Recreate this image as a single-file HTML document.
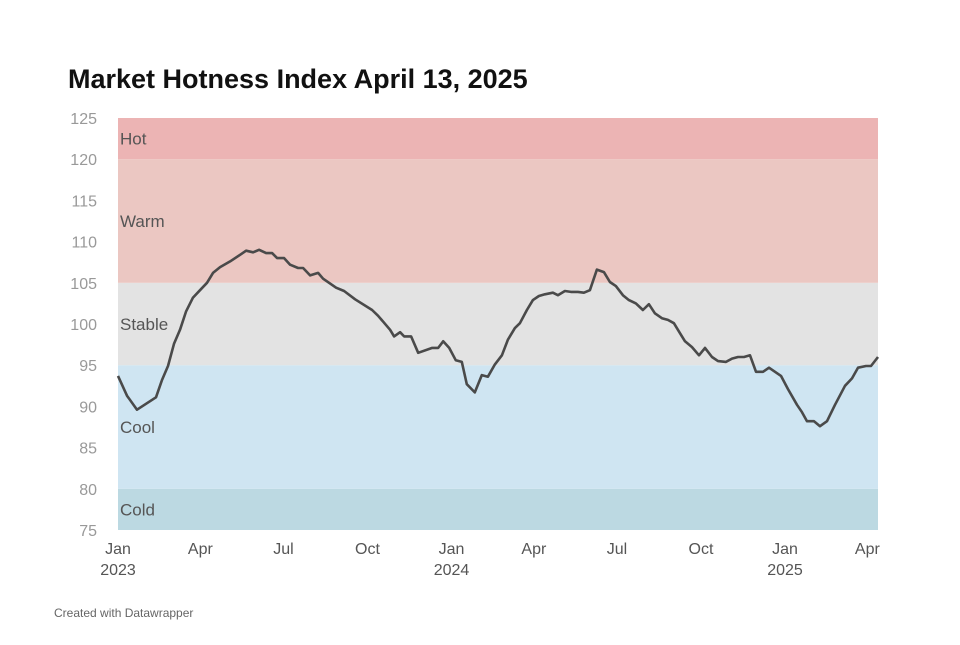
<!DOCTYPE html>
<html><head><meta charset="utf-8"><style>
body{margin:0;background:#fff;font-family:"Liberation Sans",Arial,sans-serif;}
#wrap{position:relative;width:960px;height:640px;}
</style></head><body>
<div id="wrap">
<svg id="chart" width="960" height="640">
<text x="68" y="88" font-size="27" font-weight="bold" fill="#111">Market Hotness Index April 13, 2025</text>
<g id="bands"></g>
<g id="yaxis"></g>
<g id="xaxis"></g>
<path id="line" fill="none" stroke="#4a4a4a" stroke-width="2.6" stroke-linejoin="round"></path>
<text x="54" y="617" font-size="12" fill="#666">Created with Datawrapper</text>
</svg>
</div>
<script>
const times=[2023.000,2023.027,2023.057,2023.114,2023.132,2023.150,2023.168,2023.186,2023.204,2023.225,2023.246,2023.267,2023.285,2023.306,2023.336,2023.366,2023.384,2023.405,2023.423,2023.444,2023.462,2023.477,2023.498,2023.516,2023.540,2023.555,2023.576,2023.600,2023.615,2023.654,2023.678,2023.711,2023.762,2023.780,2023.816,2023.828,2023.846,2023.858,2023.879,2023.900,2023.942,2023.960,2023.975,2023.993,2024.013,2024.031,2024.046,2024.070,2024.091,2024.109,2024.130,2024.151,2024.169,2024.190,2024.205,2024.226,2024.244,2024.262,2024.280,2024.304,2024.319,2024.340,2024.358,2024.379,2024.397,2024.415,2024.436,2024.457,2024.475,2024.493,2024.514,2024.532,2024.553,2024.574,2024.592,2024.610,2024.631,2024.649,2024.667,2024.685,2024.700,2024.721,2024.742,2024.760,2024.781,2024.799,2024.823,2024.841,2024.859,2024.877,2024.895,2024.913,2024.934,2024.952,2024.988,2025.009,2025.036,2025.051,2025.066,2025.087,2025.105,2025.126,2025.150,2025.180,2025.201,2025.219,2025.243,2025.258,2025.279];
const values=[93.7,91.3,89.6,91.1,93.2,94.9,97.6,99.3,101.5,103.2,104.1,105.0,106.2,106.9,107.6,108.4,108.9,108.7,109.0,108.6,108.6,108.0,108.0,107.2,106.8,106.8,105.9,106.2,105.5,104.4,104.0,103.0,101.7,101.0,99.3,98.5,99.0,98.5,98.5,96.5,97.1,97.1,97.9,97.1,95.6,95.4,92.7,91.7,93.8,93.6,95.1,96.2,98.1,99.5,100.1,101.7,102.9,103.4,103.6,103.8,103.5,104.0,103.9,103.9,103.8,104.1,106.6,106.3,105.1,104.6,103.5,102.9,102.5,101.7,102.4,101.3,100.7,100.5,100.1,98.9,97.9,97.2,96.2,97.1,96.0,95.5,95.4,95.8,96.0,96.0,96.2,94.2,94.2,94.7,93.7,92.1,90.2,89.3,88.2,88.2,87.6,88.2,90.2,92.5,93.4,94.7,94.9,94.9,96.0];
const yTicks=[75,80,85,90,95,100,105,110,115,120,125];
const bandNames=["Cold","Cool","Stable","Warm","Hot"];
const bandFrom=[75,80,95,105,120];
const bandTo=[80,95,105,120,125];
const bandColors=["#bcd9e2","#cfe5f2","#e3e3e3","#ebc7c2","#ecb4b4"];
const xTickLabels=["Jan","Apr","Jul","Oct","Jan","Apr","Jul","Oct","Jan","Apr"];
const xTickTimes=[2023,2023.247,2023.496,2023.748,2024,2024.247,2024.496,2024.748,2025,2025.247];
const yearLabels=["2023","2024","2025"];
const yearTimes=[2023,2024,2025];

const X0=118,X1=878,Y0=530,Y1=118;
const x=t=>X0+(t-2023)*333.5;
const y=v=>Y0-(v-75)*(Y0-Y1)/50;
const NS="http://www.w3.org/2000/svg";
function mk(tag,attrs,parent){const e=document.createElementNS(NS,tag);for(const k in attrs)e.setAttribute(k,attrs[k]);parent.appendChild(e);return e;}
const bands=document.getElementById('bands');
bandNames.forEach((n,i)=>{
  const r=mk('rect',{x:X0,y:y(bandTo[i]),width:X1-X0,height:y(bandFrom[i])-y(bandTo[i]),fill:bandColors[i]},bands);
  
  
  const ly=(y(bandFrom[i])+y(bandTo[i]))/2+6;
  const t=mk('text',{x:X0+2,y:ly,'font-size':17,fill:'#555'},bands);
  t.textContent=n;
  
  
});
const ya=document.getElementById('yaxis');
yTicks.forEach(v=>{
  const t=mk('text',{x:97,y:y(v)+6,'font-size':16,fill:'#999','text-anchor':'end'},ya);
  t.textContent=v;
  
  
});
const xa=document.getElementById('xaxis');
xTickLabels.forEach((l,i)=>{
  const t=mk('text',{x:x(xTickTimes[i]),y:554,'font-size':16,fill:'#555','text-anchor':'middle'},xa);
  t.textContent=l;
  
  
});
yearLabels.forEach((l,i)=>{
  const t=mk('text',{x:x(yearTimes[i]),y:575,'font-size':16,fill:'#555','text-anchor':'middle'},xa);
  t.textContent=l;
  
  
});
document.getElementById('line').setAttribute('d',times.map((t,i)=>(i?'L':'M')+x(t).toFixed(1)+','+y(values[i]).toFixed(1)).join(''));
</script>
</body></html>
